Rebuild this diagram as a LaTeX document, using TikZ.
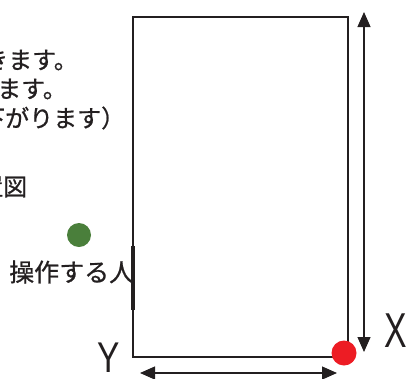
\documentclass[tikz,border=0pt]{standalone}
\usepackage{graphicx}
\usepackage{fontspec}
\setmainfont{Liberation Sans}
\newfontfamily\jp[FakeBold=0.8]{Noto Sans CJK JP}
\usetikzlibrary{arrows.meta}
\definecolor{ink}{HTML}{231F20}
\definecolor{dotred}{HTML}{ED1C24}
\definecolor{dotgreen}{HTML}{4A7F3B}
\begin{document}
\begin{tikzpicture}[x=1pt,y=-1pt,
  jtext/.style={anchor=west,inner sep=0pt,font=\jp\fontsize{24}{24}\selectfont,text=ink},
  axislabel/.style={inner sep=0pt,text=ink},
  frame/.style={draw=ink,line width=2.5pt},
  dimline/.style={draw=ink,line width=1.2pt,{Triangle[length=15pt,width=13pt]}-{Triangle[length=15pt,width=13pt]}}]
\clip (0,0) rectangle (412,378);
% texts at left (clipped by the picture border)
\node[jtext] (l1) at (-16,60) {きます。};
\node[jtext] (l2) at (-3,89) {ます。};
\node[jtext] (l3) at (-19,118) {下がります）};
\node[jtext] (l4) at (-21,187) {置図};
\node[jtext,font=\jp\fontsize{25}{25}\selectfont] (person) at (9,272) {操作する人};
% frame
\coordinate (tl) at (133,17);
\coordinate (br) at (348,357);
\draw[frame] (tl) rectangle (br);
\coordinate (s1) at (133,246);
\coordinate (s2) at (133,310);
\draw[draw=ink,line width=4.5pt] (s1) -- (s2);
% dimension arrows
\coordinate (vt) at (364,12);
\coordinate (vb) at (364,352);
\draw[dimline] (vb) -- (vt);
\coordinate (hl) at (140,373);
\coordinate (hr) at (337,373);
\draw[dimline] (hl) -- (hr);
% dots
\fill[dotred] (344,353) circle[radius=12.5pt];
\fill[dotgreen] (79,235) circle[radius=12pt];
% axis labels
\node[axislabel,font=\fontsize{49}{49}\selectfont] (X) at (396,330.5) {\scalebox{0.69}[1]{X}};
\node[axislabel,font=\fontsize{43}{43}\selectfont] (Y) at (109,357.5) {\scalebox{0.78}[1]{Y}};
\end{tikzpicture}
\end{document}
